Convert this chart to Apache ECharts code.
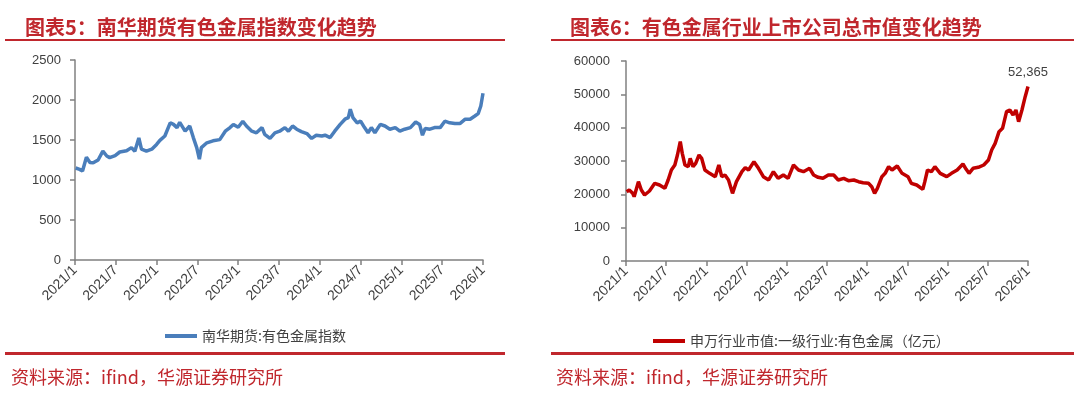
<!DOCTYPE html>
<html>
<head>
<meta charset="utf-8">
<script src="https://cdn.jsdelivr.net/npm/echarts@6/dist/echarts.min.js"></script>
<style>
html,body{margin:0;padding:0;background:#fff;}
#c{width:1080px;height:394px;}
</style>
</head>
<body>
<div id="c"></div>
<script>
// ---------- data ----------
const xTickLabels = ['2021/1','2021/7','2022/1','2022/7','2023/1','2023/7','2024/1','2024/7','2025/1','2025/7','2026/1'];

const leftName = '南华期货:有色金属指数';
const leftDates = ['2021-01-04','2021-01-22','2021-02-04','2021-02-20','2021-03-07','2021-03-22','2021-04-13','2021-05-04','2021-05-22','2021-06-04','2021-06-28','2021-07-19','2021-08-19','2021-09-10','2021-09-25','2021-10-13','2021-10-25','2021-11-16','2021-12-10',
'2022-01-01','2022-01-16','2022-02-07','2022-03-01','2022-03-16','2022-04-01','2022-04-13','2022-05-07','2022-05-28','2022-06-13','2022-06-28','2022-07-10','2022-07-19','2022-08-13','2022-09-10','2022-10-10','2022-11-04','2022-11-25','2022-12-10',
'2023-01-01','2023-01-22','2023-02-07','2023-03-01','2023-03-22','2023-04-16','2023-04-28','2023-05-22','2023-06-13','2023-07-04','2023-07-28','2023-08-13','2023-09-01','2023-09-19','2023-10-10','2023-11-04','2023-11-25','2023-12-16',
'2024-01-10','2024-01-25','2024-02-16','2024-03-07','2024-04-01','2024-04-22','2024-05-07','2024-05-16','2024-05-28','2024-06-16','2024-07-01','2024-07-19','2024-08-04','2024-08-19','2024-09-04','2024-09-28','2024-10-19','2024-11-10','2024-12-04','2024-12-25',
'2025-01-16','2025-02-10','2025-03-04','2025-03-22','2025-04-04','2025-04-16','2025-05-07','2025-05-28','2025-06-22','2025-07-13','2025-08-04','2025-08-28','2025-09-19','2025-10-13','2025-11-04','2025-11-25','2025-12-10','2025-12-22','2026-01-01'];
const leftValues = [1150,1133,1112,1285,1220,1215,1250,1360,1300,1280,1305,1350,1365,1405,1360,1525,1385,1360,1385,
1445,1495,1550,1715,1695,1655,1720,1610,1675,1530,1405,1260,1405,1465,1490,1505,1610,1655,1695,
1660,1735,1675,1610,1590,1655,1570,1520,1590,1610,1655,1610,1675,1635,1605,1580,1520,1560,
1550,1560,1530,1610,1695,1760,1780,1885,1780,1715,1735,1655,1590,1655,1590,1695,1675,1635,1655,1610,
1635,1655,1725,1695,1560,1645,1635,1655,1655,1735,1715,1705,1705,1760,1760,1800,1830,1925,2085];

const rightName = '申万行业市值:一级行业:有色金属（亿元）';
const rightDates = ['2021-01-04','2021-01-16','2021-02-01','2021-02-07','2021-02-25','2021-03-10','2021-03-25','2021-04-16','2021-05-10','2021-06-01','2021-06-25','2021-07-10','2021-07-25','2021-08-10','2021-08-22','2021-09-04','2021-09-13','2021-09-25','2021-10-10','2021-10-19','2021-11-01','2021-11-13','2021-11-28','2021-12-10','2021-12-25',
'2022-01-16','2022-02-10','2022-02-25','2022-03-10','2022-03-25','2022-04-10','2022-04-28','2022-05-16','2022-06-10','2022-06-25','2022-07-10','2022-08-04','2022-08-25','2022-09-16','2022-10-10','2022-11-01','2022-11-22','2022-12-16',
'2023-01-07','2023-02-01','2023-02-22','2023-03-16','2023-04-13','2023-05-01','2023-05-22','2023-06-13','2023-07-07','2023-08-01','2023-08-22','2023-09-16','2023-10-07','2023-11-01','2023-11-22','2023-12-13',
'2024-01-07','2024-01-22','2024-02-04','2024-02-16','2024-03-07','2024-03-22','2024-04-07','2024-04-22','2024-05-16','2024-06-07','2024-07-04','2024-07-19','2024-08-13','2024-09-10','2024-09-19','2024-10-01','2024-10-19','2024-11-04','2024-11-28','2024-12-28',
'2025-01-19','2025-02-13','2025-03-10','2025-03-25','2025-04-07','2025-04-25','2025-05-19','2025-06-13','2025-07-04','2025-07-19','2025-08-04','2025-08-22','2025-09-07','2025-09-25','2025-10-10','2025-10-25','2025-11-07','2025-11-19','2025-12-04','2025-12-19','2026-01-01'];
const rightValues = [20800,21300,20300,19300,23800,21300,19800,21000,23300,22800,21800,24300,27300,28800,31800,35800,32300,28800,28300,30800,28300,29300,31800,30800,27300,
26300,25300,28800,25300,25800,24300,20300,23800,26800,28000,27300,29800,27800,25300,24300,26800,24800,25800,
24800,28800,27300,26800,27800,25800,25100,24800,25800,25800,24300,24800,24100,24300,23800,23500,
23300,22300,20300,21800,25300,26300,28300,27300,28500,26300,25300,23300,22800,21500,23800,27300,26800,28300,26300,25300,
26300,27300,29100,27500,26300,27800,28100,28800,30300,33300,35300,38800,39800,44800,45300,43800,45300,41800,45300,49300,52365];

const leftTitle = '图表5：南华期货有色金属指数变化趋势';
const rightTitle = '图表6：有色金属行业上市公司总市值变化趋势';
const sourceText = '资料来源：ifind，华源证券研究所';

// ---------- helpers ----------
function toMonth(d){
  const p = d.split('-').map(Number);
  const dim = new Date(p[0], p[1], 0).getDate();
  return (p[0]-2021)*12 + (p[1]-1) + (p[2]-1)/dim;
}
function pairs(dates, vals){ return dates.map((d,i)=>[toMonth(d), vals[i]]); }
function monthLabel(v){ const i = Math.round(v/6); return xTickLabels[i] || ''; }

const RED = '#c0272d';
const axisColor = '#808080';
const labelColor = '#404040';
const numFont = 'Liberation Sans, Arial, sans-serif';
const cjk = '"Noto Sans CJK SC", sans-serif';

function xAxisCfg(gi){
  return {
    type:'value', gridIndex:gi, min:0, max:60, interval:6,
    axisLine:{show:true,onZero:false,lineStyle:{color:axisColor,width:1.5}},
    axisTick:{show:true,length:5,lineStyle:{color:axisColor,width:1.5}},
    splitLine:{show:false},
    axisLabel:{rotate:45,formatter:monthLabel,color:labelColor,fontSize:14,fontFamily:numFont,margin:8}
  };
}
function yAxisCfg(gi, max, interval, margin){
  return {
    type:'value', gridIndex:gi, min:0, max:max, interval:interval,
    axisLine:{show:true,lineStyle:{color:axisColor,width:1.5}},
    axisTick:{show:true,length:5,lineStyle:{color:axisColor,width:1.5}},
    splitLine:{show:false},
    axisLabel:{color:labelColor,fontSize:13,fontFamily:numFont,margin:margin,formatter:v=>String(v)}
  };
}

const chart = echarts.init(document.getElementById('c'), null, {renderer:'canvas'});
const lastIdx = rightValues.length-1;
chart.setOption({
  animation:false,
  backgroundColor:'#fff',
  title:[
    {text:leftTitle,left:20,top:12,textStyle:{color:RED,fontSize:20,fontWeight:'bold',fontFamily:cjk}},
    {text:rightTitle,left:565,top:12,textStyle:{color:RED,fontSize:20,fontWeight:'bold',fontFamily:cjk}},
    {text:sourceText,left:6,top:363,textStyle:{color:RED,fontSize:18,fontWeight:'normal',fontFamily:cjk}},
    {text:sourceText,left:551,top:363,textStyle:{color:RED,fontSize:18,fontWeight:'normal',fontFamily:cjk}}
  ],
  graphic:[
    {type:'rect',shape:{x:5,y:39,width:500,height:2},style:{fill:RED},silent:true},
    {type:'rect',shape:{x:551,y:39,width:523,height:2},style:{fill:RED},silent:true},
    {type:'rect',shape:{x:5,y:352,width:500,height:3},style:{fill:RED},silent:true},
    {type:'rect',shape:{x:551,y:352,width:523,height:3},style:{fill:RED},silent:true}
  ],
  legend:[
    {data:[{name:leftName,icon:'rect'}],left:160,top:324,itemWidth:32,itemHeight:4,itemGap:8,
     textStyle:{color:labelColor,fontSize:14,fontFamily:cjk}},
    {data:[{name:rightName,icon:'rect'}],left:648,top:329,itemWidth:32,itemHeight:4,itemGap:8,
     textStyle:{color:labelColor,fontSize:14,fontFamily:cjk}}
  ],
  grid:[
    {left:75,right:597,top:60,bottom:134},
    {left:626,right:52,top:61,bottom:133}
  ],
  xAxis:[xAxisCfg(0), xAxisCfg(1)],
  yAxis:[yAxisCfg(0,2500,500,14), yAxisCfg(1,60000,10000,16)],
  series:[
    {name:leftName,type:'line',xAxisIndex:0,yAxisIndex:0,data:pairs(leftDates,leftValues),
     showSymbol:false,symbol:'none',lineStyle:{color:'#4a7ebb',width:3.5},itemStyle:{color:'#4a7ebb'}},
    {name:rightName,type:'line',xAxisIndex:1,yAxisIndex:1,data:pairs(rightDates,rightValues),
     showSymbol:false,symbol:'none',lineStyle:{color:'#c00000',width:3.5},itemStyle:{color:'#c00000'},
     markPoint:{symbol:'circle',symbolSize:0,
       data:[{coord:[toMonth(rightDates[lastIdx]),rightValues[lastIdx]],value:rightValues[lastIdx]}],
       label:{show:true,position:'top',distance:8,color:labelColor,fontSize:13,fontFamily:numFont,
         formatter:p=>p.value.toLocaleString('en-US')}}
    }
  ]
});
</script>
</body>
</html>
